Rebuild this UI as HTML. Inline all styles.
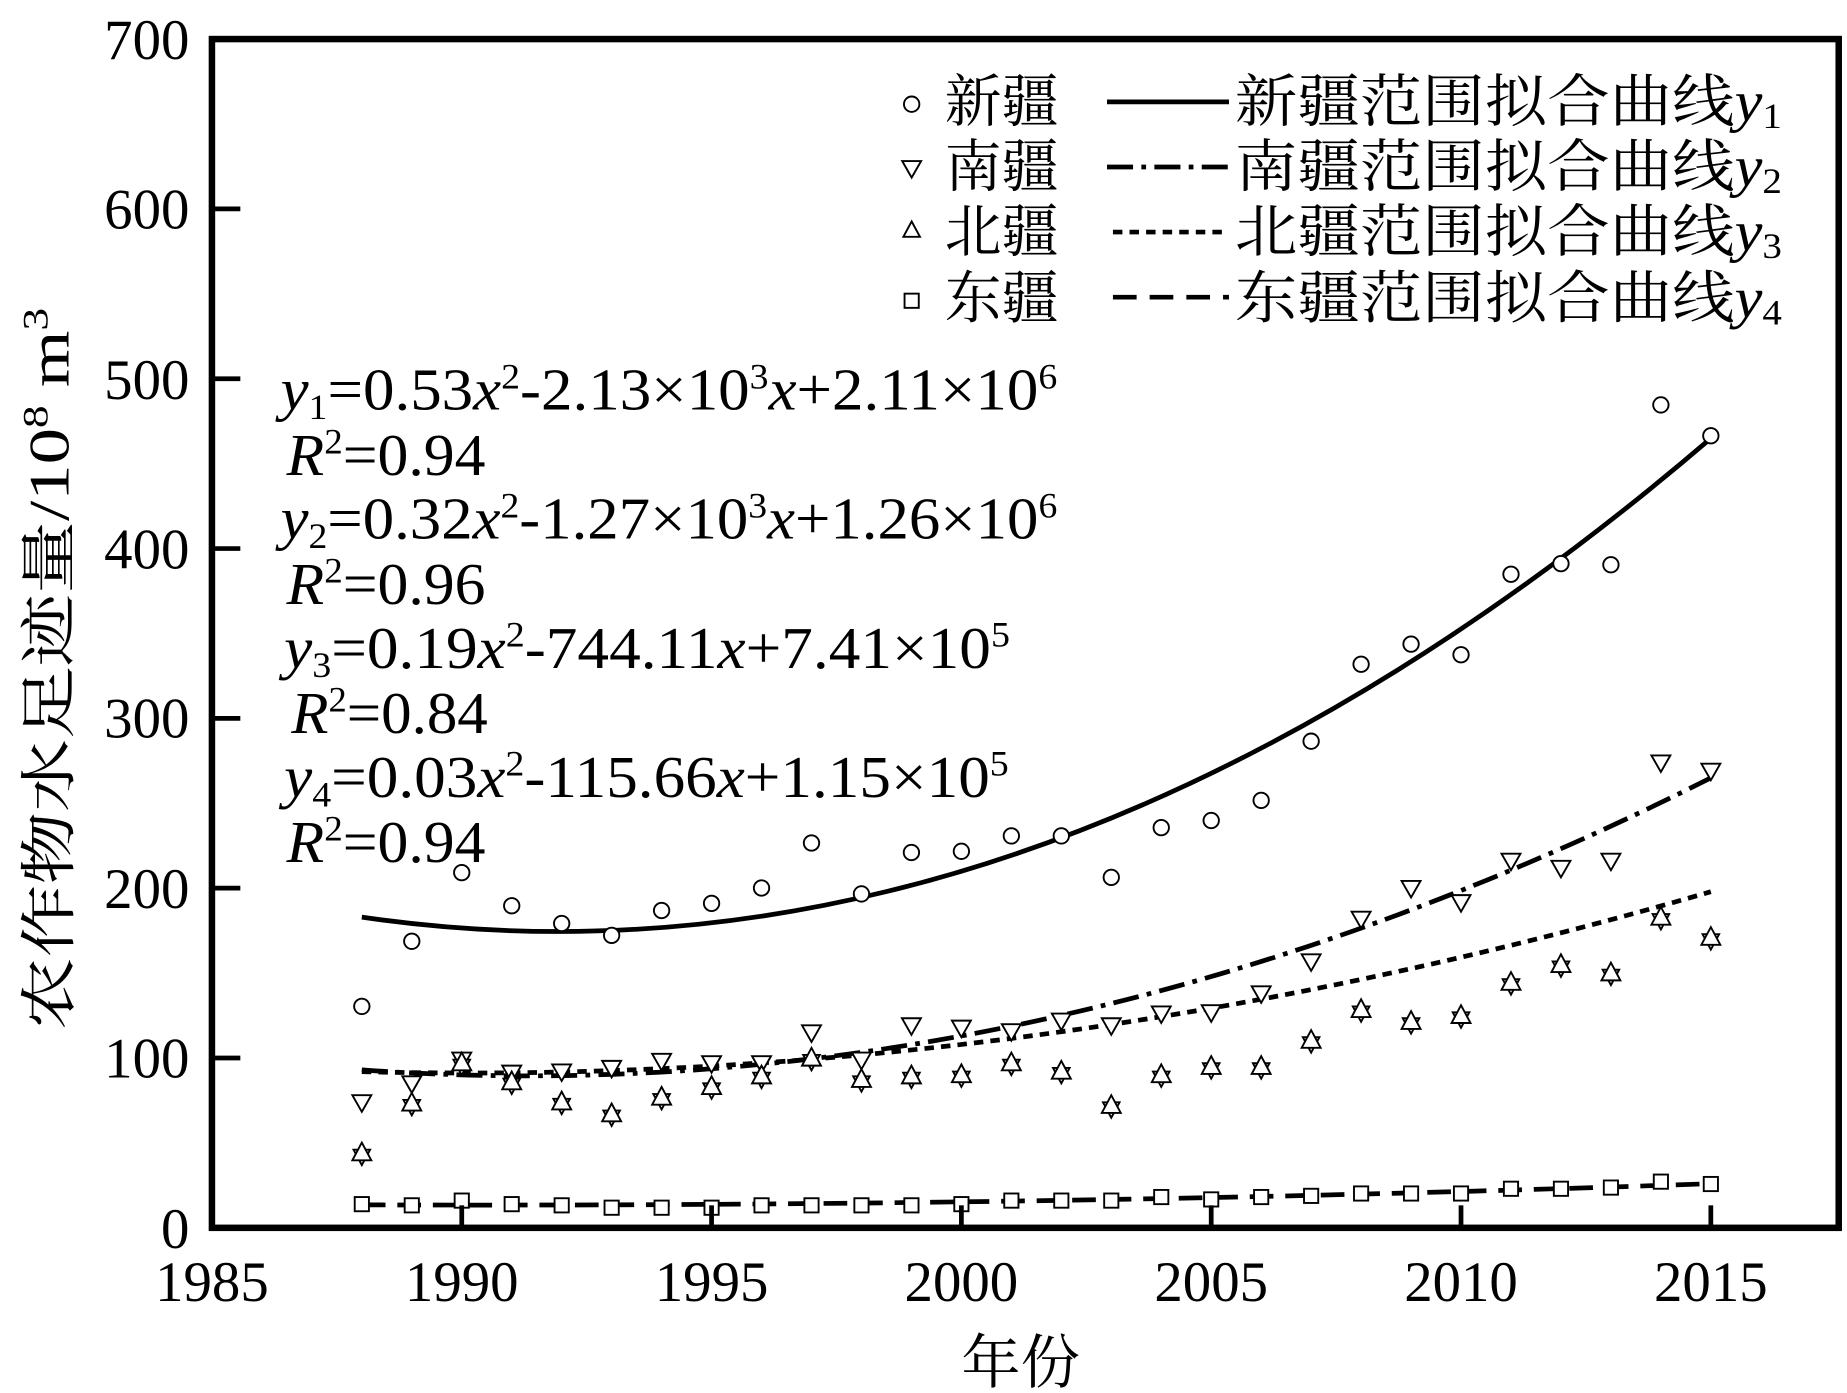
<!DOCTYPE html>
<html><head><meta charset="utf-8"><style>html,body{margin:0;padding:0;background:#fff}svg{display:block}</style></head>
<body>
<svg width="1847" height="1393" viewBox="0 0 1560 1176.5" preserveAspectRatio="none" xmlns="http://www.w3.org/2000/svg">
<defs>
<circle id="c" r="6.5" fill="#fff" stroke="#000" stroke-width="1.6"/>
<path id="d" d="M-8,-6 L8,-6 L0,8 Z" fill="#fff" stroke="#000" stroke-width="1.6"/>
<g id="s"><path d="M-7,-3 L7,-3 L0,10 Z" fill="#fff" stroke="#000" stroke-width="1.6"/><path d="M-8,6 L8,6 L0,-9 Z" fill="#fff" stroke="#000" stroke-width="1.6"/></g>
<rect id="q" x="-6" y="-6" width="12" height="12" fill="#fff" stroke="#000" stroke-width="1.6"/>
</defs>
<g font-family="Liberation Serif, serif" fill="#000">
<g fill="none" stroke="#000" stroke-width="4">
<path d="M305.6,774.6 Q875.3,857.9 1445,370.2"/>
<path d="M305.6,903.6 Q875.3,944.2 1445,657" stroke-dasharray="22,7,4,7"/>
<path d="M305.6,905.1 Q875.3,919.4 1445,753.1" stroke-dasharray="8,6"/>
<path d="M305.6,1017.6 Q875.3,1019.6 1445,999.7" stroke-dasharray="20,10"/>
</g>
<g>
<use href="#c" x="305.6" y="850"/><use href="#c" x="347.8" y="795"/><use href="#c" x="390" y="737"/><use href="#c" x="432.2" y="765"/><use href="#c" x="474.4" y="780"/><use href="#c" x="516.6" y="790"/><use href="#c" x="558.8" y="769"/><use href="#c" x="601" y="763"/><use href="#c" x="643.2" y="750"/><use href="#c" x="685.4" y="712"/><use href="#c" x="727.6" y="755"/><use href="#c" x="769.8" y="720"/><use href="#c" x="812" y="719"/><use href="#c" x="854.2" y="706"/><use href="#c" x="896.4" y="706"/><use href="#c" x="938.6" y="741"/><use href="#c" x="980.8" y="699"/><use href="#c" x="1023" y="693"/><use href="#c" x="1065.2" y="676"/><use href="#c" x="1107.4" y="626"/><use href="#c" x="1149.6" y="561"/><use href="#c" x="1191.8" y="544"/><use href="#c" x="1234" y="553"/><use href="#c" x="1276.2" y="485"/><use href="#c" x="1318.4" y="476"/><use href="#c" x="1360.6" y="477"/><use href="#c" x="1402.8" y="342"/><use href="#c" x="1445" y="368"/>
</g>
<g>
<use href="#d" x="305.6" y="931"/><use href="#d" x="347.8" y="915"/><use href="#d" x="390" y="895"/><use href="#d" x="432.2" y="906"/><use href="#d" x="474.4" y="905"/><use href="#d" x="516.6" y="902"/><use href="#d" x="558.8" y="896"/><use href="#d" x="601" y="898"/><use href="#d" x="643.2" y="898"/><use href="#d" x="685.4" y="872"/><use href="#d" x="727.6" y="895"/><use href="#d" x="769.8" y="866"/><use href="#d" x="812" y="868"/><use href="#d" x="854.2" y="871"/><use href="#d" x="896.4" y="862"/><use href="#d" x="938.6" y="866"/><use href="#d" x="980.8" y="856"/><use href="#d" x="1023" y="855"/><use href="#d" x="1065.2" y="839"/><use href="#d" x="1107.4" y="812"/><use href="#d" x="1149.6" y="776"/><use href="#d" x="1191.8" y="750"/><use href="#d" x="1234" y="762"/><use href="#d" x="1276.2" y="727"/><use href="#d" x="1318.4" y="733"/><use href="#d" x="1360.6" y="727"/><use href="#d" x="1402.8" y="644"/><use href="#d" x="1445" y="651"/>
</g>
<g>
<use href="#s" x="305.6" y="974"/><use href="#s" x="347.8" y="932"/><use href="#s" x="390" y="898"/><use href="#s" x="432.2" y="914"/><use href="#s" x="474.4" y="931"/><use href="#s" x="516.6" y="941"/><use href="#s" x="558.8" y="927"/><use href="#s" x="601" y="918"/><use href="#s" x="643.2" y="909"/><use href="#s" x="685.4" y="894"/><use href="#s" x="727.6" y="912"/><use href="#s" x="769.8" y="909"/><use href="#s" x="812" y="908"/><use href="#s" x="854.2" y="898"/><use href="#s" x="896.4" y="905"/><use href="#s" x="938.6" y="934"/><use href="#s" x="980.8" y="908"/><use href="#s" x="1023" y="901"/><use href="#s" x="1065.2" y="901"/><use href="#s" x="1107.4" y="879"/><use href="#s" x="1149.6" y="853"/><use href="#s" x="1191.8" y="863"/><use href="#s" x="1234" y="858"/><use href="#s" x="1276.2" y="830"/><use href="#s" x="1318.4" y="815"/><use href="#s" x="1360.6" y="822"/><use href="#s" x="1402.8" y="775"/><use href="#s" x="1445" y="792"/>
</g>
<g>
<use href="#q" x="305.6" y="1017"/><use href="#q" x="347.8" y="1018"/><use href="#q" x="390" y="1014"/><use href="#q" x="432.2" y="1017"/><use href="#q" x="474.4" y="1018"/><use href="#q" x="516.6" y="1020"/><use href="#q" x="558.8" y="1020"/><use href="#q" x="601" y="1020"/><use href="#q" x="643.2" y="1018"/><use href="#q" x="685.4" y="1018"/><use href="#q" x="727.6" y="1018"/><use href="#q" x="769.8" y="1018"/><use href="#q" x="812" y="1017"/><use href="#q" x="854.2" y="1014"/><use href="#q" x="896.4" y="1014"/><use href="#q" x="938.6" y="1014"/><use href="#q" x="980.8" y="1011"/><use href="#q" x="1023" y="1013"/><use href="#q" x="1065.2" y="1011"/><use href="#q" x="1107.4" y="1010"/><use href="#q" x="1149.6" y="1008"/><use href="#q" x="1191.8" y="1008"/><use href="#q" x="1234" y="1008"/><use href="#q" x="1276.2" y="1004"/><use href="#q" x="1318.4" y="1004"/><use href="#q" x="1360.6" y="1003"/><use href="#q" x="1402.8" y="998"/><use href="#q" x="1445" y="1000"/>
</g>
<rect x="179" y="33" width="1374" height="1004" fill="none" stroke="#000" stroke-width="5.5"/>
<g stroke="#000" stroke-width="4">
<line x1="179" y1="176.4" x2="203" y2="176.4"/><line x1="179" y1="319.9" x2="203" y2="319.9"/><line x1="179" y1="463.3" x2="203" y2="463.3"/><line x1="179" y1="606.7" x2="203" y2="606.7"/><line x1="179" y1="750.1" x2="203" y2="750.1"/><line x1="179" y1="893.6" x2="203" y2="893.6"/>
<line x1="390" y1="1037" x2="390" y2="1018"/><line x1="601" y1="1037" x2="601" y2="1018"/><line x1="812" y1="1037" x2="812" y2="1018"/><line x1="1023" y1="1037" x2="1023" y2="1018"/><line x1="1234" y1="1037" x2="1234" y2="1018"/><line x1="1445" y1="1037" x2="1445" y2="1018"/>
</g>
<g font-size="48" text-anchor="end">
<text x="160" y="50">700</text><text x="160" y="193">600</text><text x="160" y="337">500</text><text x="160" y="480">400</text><text x="160" y="623">300</text><text x="160" y="767">200</text><text x="160" y="910">100</text><text x="160" y="1054">0</text>
</g>
<g font-size="48" text-anchor="middle">
<text x="179" y="1099">1985</text><text x="390" y="1099">1990</text><text x="601" y="1099">1995</text><text x="812" y="1099">2000</text><text x="1023" y="1099">2005</text><text x="1234" y="1099">2010</text><text x="1445" y="1099">2015</text>
</g>
<text x="862" y="1168" font-size="50" text-anchor="middle" font-family="Liberation Serif, 'Noto Serif CJK SC', serif">年份</text>
<text transform="translate(58,565) rotate(-90)" font-size="48" text-anchor="middle" font-family="Liberation Serif, 'Noto Serif CJK SC', serif" textLength="610" lengthAdjust="spacingAndGlyphs">农作物水足迹量/10<tspan font-size="30" dy="-18">8</tspan><tspan dy="18"> m</tspan><tspan font-size="30" dy="-18">3</tspan></text>
<use href="#c" x="770" y="88"/><use href="#d" x="770" y="142"/><path d="M763,200 L777,200 L770,187 Z" fill="#fff" stroke="#000" stroke-width="1.6"/><use href="#q" x="770" y="254"/>
<g font-size="48" font-family="Liberation Serif, 'Noto Serif CJK SC', serif">
<text x="798" y="102">新疆</text><text x="798" y="157">南疆</text><text x="798" y="212">北疆</text><text x="798" y="268">东疆</text>
<text x="1043" y="102" textLength="462" lengthAdjust="spacingAndGlyphs">新疆范围拟合曲线<tspan font-style="italic">y</tspan><tspan font-size="30" dy="6">1</tspan></text>
<text x="1043" y="157" textLength="462" lengthAdjust="spacingAndGlyphs">南疆范围拟合曲线<tspan font-style="italic">y</tspan><tspan font-size="30" dy="6">2</tspan></text>
<text x="1043" y="212" textLength="462" lengthAdjust="spacingAndGlyphs">北疆范围拟合曲线<tspan font-style="italic">y</tspan><tspan font-size="30" dy="6">3</tspan></text>
<text x="1043" y="268" textLength="462" lengthAdjust="spacingAndGlyphs">东疆范围拟合曲线<tspan font-style="italic">y</tspan><tspan font-size="30" dy="6">4</tspan></text>
</g>
<g stroke="#000" stroke-width="4">
<line x1="935" y1="86" x2="1038" y2="86"/>
<line x1="935" y1="141" x2="1038" y2="141" stroke-dasharray="22,7,4,7"/>
<line x1="940" y1="196" x2="1038" y2="196" stroke-dasharray="8,6"/>
<line x1="940" y1="251" x2="1038" y2="251" stroke-dasharray="20,11"/>
</g>
<g font-size="50">
<text x="237" y="346" textLength="656" lengthAdjust="spacingAndGlyphs"><tspan font-style="italic">y</tspan><tspan font-size="30" dy="8">1</tspan><tspan dy="-8">=0.53</tspan><tspan font-style="italic">x</tspan><tspan font-size="30" dy="-18">2</tspan><tspan dy="18">-2.13×10</tspan><tspan font-size="30" dy="-18">3</tspan><tspan dy="18" font-style="italic">x</tspan><tspan>+2.11×10</tspan><tspan font-size="30" dy="-18">6</tspan></text>
<text x="242" y="401" textLength="168" lengthAdjust="spacingAndGlyphs"><tspan font-style="italic">R</tspan><tspan font-size="30" dy="-18">2</tspan><tspan dy="18">=0.94</tspan></text>
<text x="237" y="455" textLength="656" lengthAdjust="spacingAndGlyphs"><tspan font-style="italic">y</tspan><tspan font-size="30" dy="8">2</tspan><tspan dy="-8">=0.32</tspan><tspan font-style="italic">x</tspan><tspan font-size="30" dy="-18">2</tspan><tspan dy="18">-1.27×10</tspan><tspan font-size="30" dy="-18">3</tspan><tspan dy="18" font-style="italic">x</tspan><tspan>+1.26×10</tspan><tspan font-size="30" dy="-18">6</tspan></text>
<text x="242" y="510" textLength="168" lengthAdjust="spacingAndGlyphs"><tspan font-style="italic">R</tspan><tspan font-size="30" dy="-18">2</tspan><tspan dy="18">=0.96</tspan></text>
<text x="240" y="564" textLength="613" lengthAdjust="spacingAndGlyphs"><tspan font-style="italic">y</tspan><tspan font-size="30" dy="8">3</tspan><tspan dy="-8">=0.19</tspan><tspan font-style="italic">x</tspan><tspan font-size="30" dy="-18">2</tspan><tspan dy="18">-744.11</tspan><tspan font-style="italic">x</tspan><tspan>+7.41×10</tspan><tspan font-size="30" dy="-18">5</tspan></text>
<text x="246" y="619" textLength="166" lengthAdjust="spacingAndGlyphs"><tspan font-style="italic">R</tspan><tspan font-size="30" dy="-18">2</tspan><tspan dy="18">=0.84</tspan></text>
<text x="240" y="673" textLength="612" lengthAdjust="spacingAndGlyphs"><tspan font-style="italic">y</tspan><tspan font-size="30" dy="8">4</tspan><tspan dy="-8">=0.03</tspan><tspan font-style="italic">x</tspan><tspan font-size="30" dy="-18">2</tspan><tspan dy="18">-115.66</tspan><tspan font-style="italic">x</tspan><tspan>+1.15×10</tspan><tspan font-size="30" dy="-18">5</tspan></text>
<text x="242" y="728" textLength="168" lengthAdjust="spacingAndGlyphs"><tspan font-style="italic">R</tspan><tspan font-size="30" dy="-18">2</tspan><tspan dy="18">=0.94</tspan></text>
</g>
</g>
</svg>
</body></html>
